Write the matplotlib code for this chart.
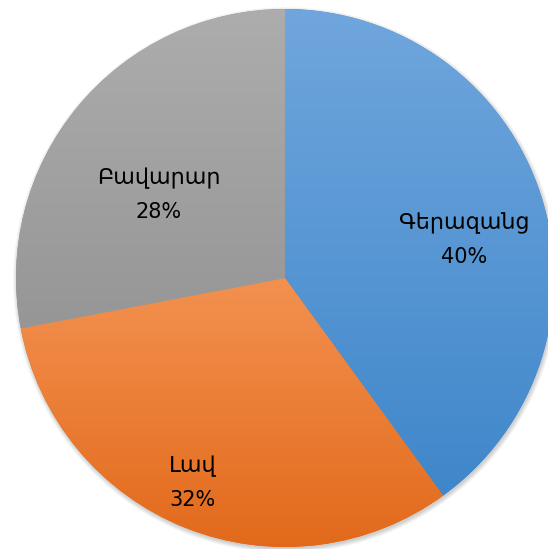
import numpy as np
import matplotlib
matplotlib.use('Agg')
import matplotlib.pyplot as plt
from matplotlib.colors import LinearSegmentedColormap

categories = ['Գերազանց', 'Լավ', 'Բավարար']
shares = [40, 32, 28]
top_colors = ['#70a6dd', '#f39150', '#adadad']
bottom_colors = ['#3f87ca', '#e2691a', '#969696']
# where the name line sits in each slice: (angle in degrees, fraction of radius)
label_spots = [(15.3, 0.69), (-115.4, 0.80), (143.4, 0.586)]

W, H = 548, 549
cx, cy, R = 285, 271, 269

fig = plt.figure(figsize=(W / 100, H / 100), dpi=100)
ax = fig.add_axes([0, 0, 1, 1])

# soft shadow round the pie
for i in range(8):
    shadow = plt.Circle((cx + 1, cy - 2), R + 4 - i * 0.6, color='black',
                        alpha=0.025, lw=0, zorder=0)
    ax.add_patch(shadow)

wedges, _ = ax.pie(shares, startangle=90, counterclock=False, center=(cx, cy),
                   radius=R, colors=bottom_colors, frame=True,
                   wedgeprops=dict(linewidth=0))
ax.set_aspect('auto')

grad = np.linspace(0, 1, 256).reshape(-1, 1)
for w, c0, c1 in zip(wedges, top_colors, bottom_colors):
    path = w.get_path().transformed(w.get_patch_transform())
    x0, y0 = path.vertices.min(axis=0)
    x1, y1 = path.vertices.max(axis=0)
    cmap = LinearSegmentedColormap.from_list('g', [c1, c0])
    im = ax.imshow(grad, cmap=cmap, extent=[x0, x1, y0, y1], origin='lower',
                   aspect='auto', zorder=w.get_zorder() + 0.1, interpolation='bilinear')
    im.set_clip_path(w)

ax.set_xlim(0, W)
ax.set_ylim(0, H)
ax.axis('off')

for name, val, (ang, frac) in zip(categories, shares, label_spots):
    tx = cx + frac * R * np.cos(np.radians(ang))
    ty = cy + frac * R * np.sin(np.radians(ang))
    ax.text(tx, ty, name, ha='center', va='baseline', fontsize=16,
            family='DejaVu Sans', color='black', zorder=10)
    ax.text(tx, ty - 34, f'{val}%', ha='center', va='baseline', fontsize=15,
            family='DejaVu Sans', color='black', zorder=10)

fig.savefig('out.png', dpi=100)
